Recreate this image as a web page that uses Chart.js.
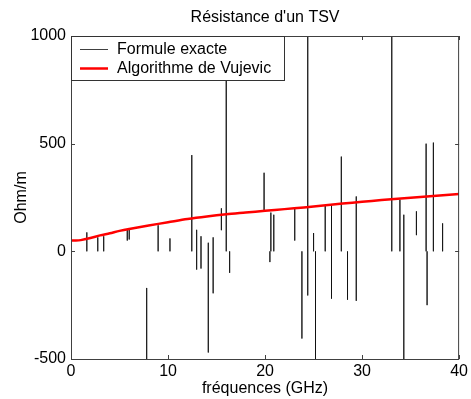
<!DOCTYPE html>
<html>
<head>
<meta charset="utf-8">
<script src="https://cdn.jsdelivr.net/npm/chart.js@4.4.1/dist/chart.umd.min.js"></script>
<style>
  html, body { margin: 0; padding: 0; background: #fff; }
  #wrap { width: 471px; height: 399px; }
</style>
</head>
<body>
<div id="wrap"><canvas id="chart" width="471" height="399"></canvas></div>
<script>
// Formule exacte : segments séparés par null (la courbe est découpée)
const freqExacte = [
  1.63, 1.63, null, 2.76, 2.76, null, 3.37, 3.37, null, 5.8, 5.8, null, 6.0, 6.0, null,
  7.8, 7.8, null, 8.98, 8.98, null, 10.2, 10.2, null, 12.45, 12.45, null, 12.95, 12.95, null,
  13.4, 13.4, null, 14.15, 14.15, null, 14.65, 14.65, null, 15.5, 15.5, null, 16.0, 16.0, null,
  16.35, 16.35, null, 19.9, 19.9, null, 20.5, 20.5, null, 20.6, 20.6, null, 20.9, 20.9, null,
  23.06, 23.06, null, 23.8, 23.8, null, 24.4, 24.4, null, 25.0, 25.0, null, 25.2, 25.2, null,
  26.2, 26.2, null, 26.85, 26.85, null, 27.86, 27.86, null, 28.5, 28.5, null, 29.4, 29.4, null,
  33.06, 33.06, null, 33.9, 33.9, null, 34.3, 34.3, null, 35.6, 35.6, null, 36.6, 36.6, null,
  36.7, 36.7, null, 37.35, 37.35, null, 38.3, 38.3
];
const resExacte = [
  88, 0, null, 65, 0, null, 70, 0, null, 100, 50, null, 100, 55, null,
  -170, -560, null, 121, 0, null, 60, 0, null, 447, 0, null, 100, -85, null,
  70, -80, null, 40, -470, null, 65, -195, null, 200, 98, null, 1100, 0, null,
  0, -100, null, 365, 190, null, 0, -50, null, 180, 0, null, 170, 0, null,
  200, 50, null, 0, -405, null, 1100, -205, null, 85, 0, null, 0, -560, null,
  214, 0, null, 214, -220, null, 440, 0, null, 0, -225, null, 255, -230, null,
  1100, 0, null, 240, 0, null, 170, -560, null, 186, 75, null, 500, 0, null,
  0, -250, null, 505, 0, null, 130, 0
];

// Algorithme de Vujevic
const freqVujevic = [0, 0.5, 1, 2, 3, 4, 5, 6, 8, 10, 12, 14, 16, 18, 20, 22, 24, 26, 28, 30, 32, 34, 36, 38, 40];
const resVujevic = [50, 50, 52, 62, 74, 84, 95, 104, 120, 135, 150, 162, 172, 180, 188, 196, 204, 213, 222, 230, 238, 245, 252, 259, 266];

const xTicks = [0, 10, 20, 30, 40];
const yTicks = [-500, 0, 500, 1000];

const titre = "Résistance d'un TSV";
const titreX = 'fréquences (GHz)';
const titreY = 'Ohm/m';
const legendes = ['Formule exacte', 'Algorithme de Vujevic'];
const couleurs = ['rgba(0,0,0,0.75)', '#ff0000'];

const police = '"Liberation Sans", Arial, sans-serif';

const toPoints = (xs, ys) => xs.map((x, i) => ({ x: x === null ? xs[i - 1] : x, y: ys[i] }));

// cadre, graduations intérieures, titres et légende façon matlab
const decor = {
  id: 'decor',
  afterDatasetsDraw(chart) {
    const ctx = chart.ctx;
    const a = chart.chartArea;
    const sx = chart.scales.x, sy = chart.scales.y;
    ctx.save();
    ctx.strokeStyle = '#404040';
    ctx.lineWidth = 1;
    ctx.strokeRect(a.left + 0.5, a.top + 0.5, a.right - a.left - 1, a.bottom - a.top);
    ctx.beginPath();
    xTicks.forEach(v => {
      const px = Math.round(sx.getPixelForValue(v)) + 0.5;
      ctx.moveTo(px, a.bottom); ctx.lineTo(px, a.bottom - 4);
      ctx.moveTo(px, a.top); ctx.lineTo(px, a.top + 4);
    });
    yTicks.forEach(v => {
      const py = Math.round(sy.getPixelForValue(v)) + 0.5;
      ctx.moveTo(a.left, py); ctx.lineTo(a.left + 4, py);
      ctx.moveTo(a.right, py); ctx.lineTo(a.right - 4, py);
    });
    ctx.stroke();

    // légende
    const lx = a.left + 0.5, ly = a.top + 0.5, lw = 213, lh = 44;
    ctx.fillStyle = '#fff';
    ctx.fillRect(lx, ly, lw, lh);
    ctx.strokeStyle = '#333';
    ctx.strokeRect(lx, ly, lw, lh);
    const rows = [a.top + 13, a.top + 32];
    ctx.font = '16px ' + police;
    ctx.textBaseline = 'middle';
    ctx.textAlign = 'left';
    legendes.forEach((t, i) => {
      ctx.beginPath();
      ctx.strokeStyle = couleurs[i];
      ctx.lineWidth = i === 0 ? 1 : 2.5;
      ctx.moveTo(a.left + 9, rows[i] + 0.5);
      ctx.lineTo(a.left + 37, rows[i] + 0.5);
      ctx.stroke();
      ctx.fillStyle = '#000';
      ctx.fillText(t, a.left + 46, rows[i] + 1);
    });

    // titres
    const cx = (a.left + a.right) / 2;
    ctx.textAlign = 'center';
    ctx.fillText(titre, cx, 18);
    ctx.fillText(titreX, cx, 389);
    ctx.translate(22, (a.top + a.bottom) / 2);
    ctx.rotate(-Math.PI / 2);
    ctx.fillText(titreY, 0, 0);
    ctx.restore();
  }
};

new Chart(document.getElementById('chart'), {
  type: 'line',
  data: {
    datasets: [
      {
        label: legendes[0],
        data: toPoints(freqExacte, resExacte),
        borderColor: couleurs[0],
        borderWidth: 0.8,
        pointRadius: 0,
        spanGaps: false,
        clip: 0,
        order: 2
      },
      {
        label: legendes[1],
        data: toPoints(freqVujevic, resVujevic),
        borderColor: couleurs[1],
        borderWidth: 2.5,
        pointRadius: 0,
        tension: 0.3,
        clip: 0,
        order: 1
      }
    ]
  },
  options: {
    responsive: false,
    animation: false,
    layout: { padding: { top: 36, right: 9, left: 0, bottom: 0 } },
    plugins: { legend: { display: false }, tooltip: { enabled: false }, title: { display: false } },
    scales: {
      x: {
        type: 'linear',
        min: 0, max: 40,
        afterFit: s => { s.height = 40; },
        afterBuildTicks: s => { s.ticks = xTicks.map(v => ({ value: v })); },
        grid: { display: false, drawTicks: false },
        border: { display: false },
        ticks: { color: '#000', font: { size: 16, family: police }, padding: 3, maxRotation: 0, callback: v => String(v) }
      },
      y: {
        min: -500, max: 1000,
        afterFit: s => { s.width = 71; },
        afterBuildTicks: s => { s.ticks = yTicks.map(v => ({ value: v })); },
        grid: { display: false, drawTicks: false },
        border: { display: false },
        ticks: { color: '#000', font: { size: 16, family: police }, padding: 5, callback: v => String(v) }
      }
    }
  },
  plugins: [decor]
});
</script>
</body>
</html>
